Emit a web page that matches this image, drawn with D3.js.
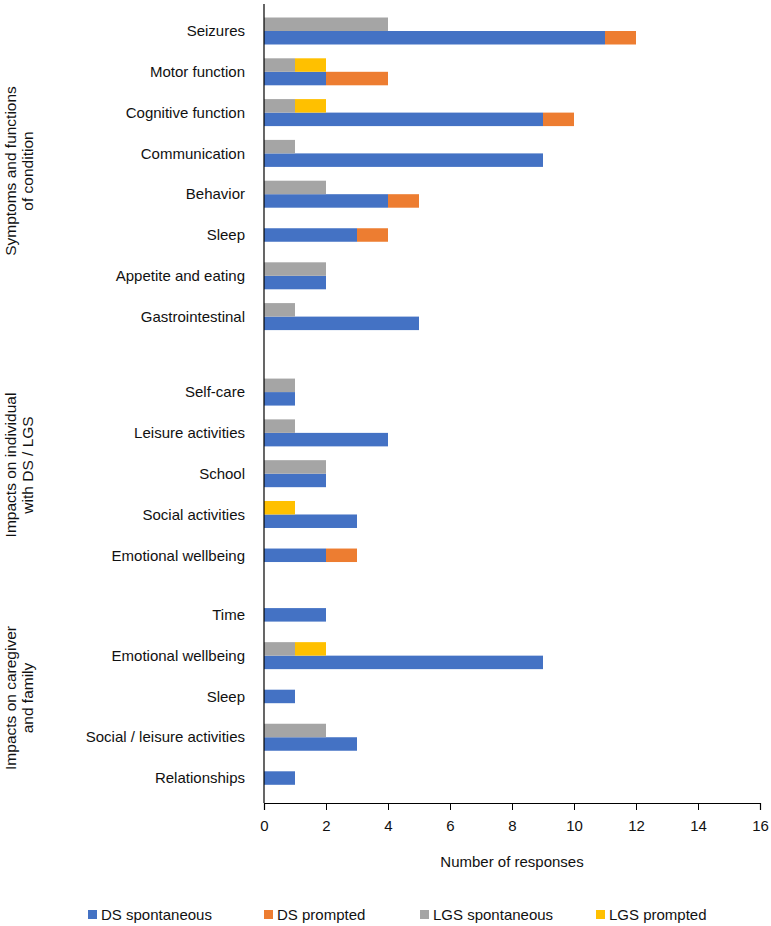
<!DOCTYPE html>
<html><head><meta charset="utf-8">
<script src="https://cdn.jsdelivr.net/npm/d3@7"></script>
<style>body{margin:0;background:#fff}svg{font-family:"Liberation Sans",Arial,sans-serif}</style>
</head><body><svg id="c" width="771" height="926"></svg>
<script>
const categories = ["Seizures","Motor function","Cognitive function","Communication","Behavior","Sleep","Appetite and eating","Gastrointestinal",
  "Self-care","Leisure activities","School","Social activities","Emotional wellbeing",
  "Time","Emotional wellbeing","Sleep","Social / leisure activities","Relationships"];
const groupOf = [0,0,0,0,0,0,0,0,1,1,1,1,1,2,2,2,2,2];
const groupNames = [["Symptoms and functions","of condition"],["Impacts on individual","with DS / LGS"],["Impacts on caregiver","and family"]];
const dsSpontaneous  = [11,2,9,9,4,3,2,5,1,4,2,3,2,2,9,1,3,1];
const dsPrompted     = [1,2,1,0,1,1,0,0,0,0,0,0,1,0,0,0,0,0];
const lgsSpontaneous = [4,1,1,1,2,0,2,1,1,1,2,0,0,0,1,0,2,0];
const lgsPrompted    = [0,1,1,0,0,0,0,0,0,0,0,1,0,0,1,0,0,0];
const seriesNames = ["DS spontaneous","DS prompted","LGS spontaneous","LGS prompted"];
const colors = ["#4472C4","#ED7D31","#A5A5A5","#FFC000"];
const xTicks = [0,2,4,6,8,10,12,14,16];

const svg = d3.select("#c");
const x = d3.scaleLinear().domain([0,16]).range([264,760]);
const groupStart = [0, 8.85, 14.31];
const groupFirst = [0, 8, 13];
const slot = i => groupStart[groupOf[i]] + (i - groupFirst[groupOf[i]]);
const y = d3.scaleLinear().domain([0,1]).range([31,71.8]);
const bh = 13.5;

categories.forEach((c,i)=>{
  const cy = y(slot(i));
  const hasLgs = lgsSpontaneous[i]+lgsPrompted[i] > 0;
  const dsY = hasLgs ? cy : cy - bh/2;
  const segs = [
    [0, dsSpontaneous[i], dsY, 0],
    [dsSpontaneous[i], dsSpontaneous[i]+dsPrompted[i], dsY, 1],
    [0, lgsSpontaneous[i], cy-bh, 2],
    [lgsSpontaneous[i], lgsSpontaneous[i]+lgsPrompted[i], cy-bh, 3]];
  segs.forEach(s=>{ if(s[1]>s[0]) svg.append("rect").attr("x",x(s[0])).attr("width",x(s[1])-x(s[0]))
      .attr("y",s[2]).attr("height",bh).attr("fill",colors[s[3]]); });
  svg.append("text").attr("x",245).attr("y",cy).attr("dy","0.35em").attr("text-anchor","end")
    .attr("font-size",15).attr("fill","#111").text(c);
});

// axes
svg.append("line").attr("x1",264).attr("x2",264).attr("y1",4).attr("y2",803).attr("stroke","#000").attr("stroke-width",1.2);
const ax = svg.append("g").attr("transform","translate(0,803)").call(d3.axisBottom(x).tickValues(xTicks).tickSize(7).tickPadding(10));
ax.select(".domain").attr("stroke","#000").attr("stroke-width",1.2);
ax.selectAll("line").attr("stroke","#000");
ax.selectAll("text").attr("font-size",15).attr("font-family","Liberation Sans, Arial, sans-serif").attr("fill","#111");
svg.append("text").attr("x",512).attr("y",862).attr("dy","0.35em").attr("text-anchor","middle").attr("font-size",15).attr("fill","#111").text("Number of responses");

// group labels
const gCenter = [171, 465, 698];
groupNames.forEach((g,k)=>{
  const t = svg.append("text").attr("transform",`translate(18,${gCenter[k]}) rotate(-90)`).attr("text-anchor","middle").attr("font-size",15.5).attr("fill","#111");
  g.forEach((line,j)=>t.append("tspan").attr("x",0).attr("dy", j===0 ? "-0.15em" : "1.15em").text(line));
});

// legend
const lx = [88, 264, 420, 596];
seriesNames.forEach((n,k)=>{
  svg.append("rect").attr("x",lx[k]).attr("y",910).attr("width",9).attr("height",9).attr("fill",colors[k]);
  svg.append("text").attr("x",lx[k]+13).attr("y",915).attr("dy","0.35em").attr("font-size",15).attr("fill","#111").text(n);
});
</script></body></html>
